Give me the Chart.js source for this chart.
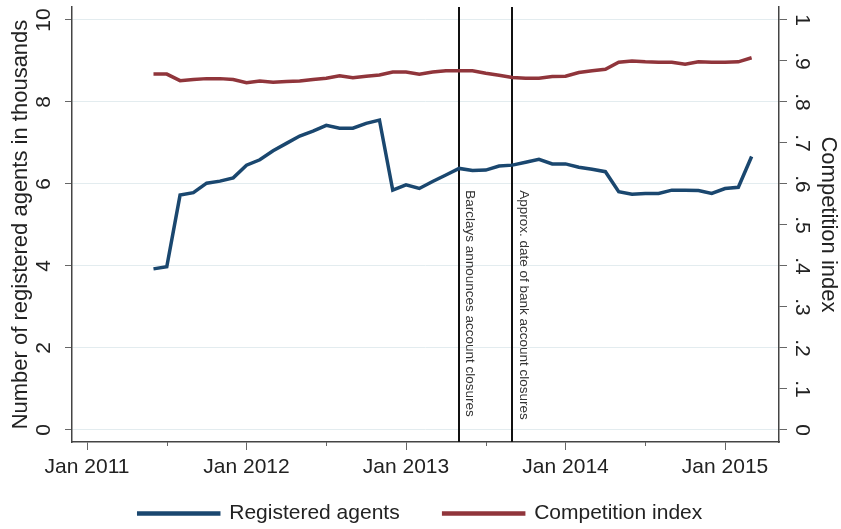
<!DOCTYPE html>
<html lang="en">
<head>
<meta charset="UTF-8">
<title>Registered agents and competition index</title>
<script src="https://cdn.jsdelivr.net/npm/chart.js"></script>
<style>
  html, body { margin: 0; padding: 0; background: #fff; }
  #wrap { width: 841px; height: 529px; }
</style>
</head>
<body>
<div id="wrap"><canvas id="chart" width="841" height="529"></canvas></div>
<script>
// monthly observations, Jun 2011 - Mar 2015
const months = [
  '2011-06','2011-07','2011-08','2011-09','2011-10','2011-11','2011-12',
  '2012-01','2012-02','2012-03','2012-04','2012-05','2012-06','2012-07','2012-08','2012-09','2012-10','2012-11','2012-12',
  '2013-01','2013-02','2013-03','2013-04','2013-05','2013-06','2013-07','2013-08','2013-09','2013-10','2013-11','2013-12',
  '2014-01','2014-02','2014-03','2014-04','2014-05','2014-06','2014-07','2014-08','2014-09','2014-10','2014-11','2014-12',
  '2015-01','2015-02','2015-03'
];

// registered agents, thousands
const agents = [
  3.93, 3.98, 5.73, 5.79, 6.02, 6.07, 6.15,
  6.46, 6.59, 6.81, 6.99, 7.17, 7.29, 7.43, 7.36, 7.36, 7.48, 7.56, 5.85,
  5.98, 5.89, 6.06, 6.22, 6.38, 6.33, 6.34, 6.44, 6.46, 6.53, 6.60, 6.49,
  6.49, 6.41, 6.36, 6.30, 5.81, 5.75, 5.77, 5.77, 5.85, 5.85, 5.84, 5.77,
  5.89, 5.92, 6.67
];

// competition index
const competition = [
  0.868, 0.868, 0.852, 0.855, 0.857, 0.857, 0.855,
  0.847, 0.851, 0.848, 0.850, 0.851, 0.855, 0.858, 0.864, 0.859, 0.863, 0.866, 0.873,
  0.873, 0.868, 0.873, 0.876, 0.876, 0.876, 0.870, 0.865, 0.860, 0.858, 0.858, 0.862,
  0.863, 0.872, 0.876, 0.880, 0.897, 0.900, 0.898, 0.897, 0.897, 0.892, 0.898, 0.897,
  0.897, 0.898, 0.908
];

const xTickMonths = ['2011-01', '2012-01', '2013-01', '2014-01', '2015-01'];
const xTickLabels = ['Jan 2011', 'Jan 2012', 'Jan 2013', 'Jan 2014', 'Jan 2015'];
const xMinorMonths = ['2011-07', '2012-07', '2013-07', '2014-07'];

const agentTicks = [0, 2, 4, 6, 8, 10];
const agentTickLabels = ['0', '2', '4', '6', '8', '10'];
const indexTicks = [0, 0.1, 0.2, 0.3, 0.4, 0.5, 0.6, 0.7, 0.8, 0.9, 1];
const indexTickLabels = ['0', '.1', '.2', '.3', '.4', '.5', '.6', '.7', '.8', '.9', '1'];

const eventMonths = ['2013-05', '2013-09'];
const eventLabels = ['Barclays announces account closures', 'Approx. date of bank account closures'];

const FONT = "'Liberation Sans', Arial, sans-serif";
Chart.defaults.font.family = FONT;
Chart.defaults.color = '#222';

// months since Jan 2011
function monthIndex(s) {
  const [y, m] = s.split('-').map(Number);
  return (y - 2011) * 12 + (m - 1);
}

function toPoints(vals) {
  return months.map((m, i) => ({ x: monthIndex(m), y: vals[i] }));
}

const stataDecor = {
  id: 'stataDecor',
  beforeDatasetsDraw(chart) {
    const { ctx, chartArea, scales } = chart;
    ctx.save();
    ctx.strokeStyle = '#111';
    ctx.lineWidth = 2;
    eventMonths.forEach(m => {
      const px = Math.round(scales.x.getPixelForValue(monthIndex(m)));
      ctx.beginPath();
      ctx.moveTo(px, chartArea.top);
      ctx.lineTo(px, chartArea.bottom);
      ctx.stroke();
    });
    ctx.restore();
  },
  afterDraw(chart) {
    const { ctx, chartArea, scales } = chart;
    ctx.save();

    // minor x ticks
    ctx.strokeStyle = '#666';
    ctx.lineWidth = 1;
    xMinorMonths.forEach(m => {
      const px = Math.round(scales.x.getPixelForValue(monthIndex(m))) + 0.5;
      ctx.beginPath();
      ctx.moveTo(px, chartArea.bottom);
      ctx.lineTo(px, chartArea.bottom + 4);
      ctx.stroke();
    });

    ctx.fillStyle = '#222';
    ctx.font = '21px ' + FONT;
    ctx.textAlign = 'center';
    ctx.textBaseline = 'middle';

    // x labels (drawn here so they are not clipped to the short axis box)
    xTickMonths.forEach((m, i) => {
      ctx.fillText(xTickLabels[i], scales.x.getPixelForValue(monthIndex(m)), chartArea.bottom + 25);
    });

    // rotated y tick labels, stata style
    agentTicks.forEach((v, i) => {
      const py = scales.y.getPixelForValue(v);
      ctx.save();
      ctx.translate(44, py);
      ctx.rotate(-Math.PI / 2);
      ctx.fillText(agentTickLabels[i], 0, 0);
      ctx.restore();
    });
    indexTicks.forEach((v, i) => {
      const py = scales.y1.getPixelForValue(v);
      ctx.save();
      ctx.translate(802, py);
      ctx.rotate(Math.PI / 2);
      ctx.fillText(indexTickLabels[i], 0, 0);
      ctx.restore();
    });

    // event notes next to the vertical lines
    ctx.font = '13.5px ' + FONT;
    ctx.fillStyle = '#333';
    ctx.textAlign = 'left';
    const noteTop = scales.y.getPixelForValue(5.85);
    eventMonths.forEach((m, i) => {
      const px = scales.x.getPixelForValue(monthIndex(m));
      ctx.save();
      ctx.translate(px + 11, noteTop);
      ctx.rotate(Math.PI / 2);
      ctx.fillText(eventLabels[i], 0, 0);
      ctx.restore();
    });

    ctx.restore();
  }
};

const axisBorder = { color: '#444', width: 1.5 };

new Chart(document.getElementById('chart'), {
  type: 'line',
  data: {
    datasets: [
      {
        label: 'Registered agents',
        data: toPoints(agents),
        borderColor: '#1a476f',
        backgroundColor: '#1a476f',
        borderWidth: 3.5,
        pointRadius: 0,
        tension: 0,
        yAxisID: 'y'
      },
      {
        label: 'Competition index',
        data: toPoints(competition),
        borderColor: '#90353b',
        backgroundColor: '#90353b',
        borderWidth: 3.5,
        pointRadius: 0,
        tension: 0,
        yAxisID: 'y1'
      }
    ]
  },
  options: {
    responsive: false,
    animation: false,
    layout: { padding: { top: 7, left: 0, right: 0, bottom: 0 } },
    plugins: {
      legend: {
        position: 'bottom',
        maxHeight: 70,
        labels: { boxWidth: 80, boxHeight: 1, padding: 44, color: '#222', font: { size: 21 } }
      },
      tooltip: { enabled: false }
    },
    scales: {
      x: {
        type: 'linear',
        min: -1.13,
        max: 52.06,
        afterBuildTicks: s => { s.ticks = xTickMonths.map(m => ({ value: monthIndex(m) })); },
        ticks: { display: false },
        grid: { drawOnChartArea: false, tickLength: 8, tickColor: '#666', tickWidth: 1 },
        border: axisBorder,
        afterFit: s => { s.height = 17; }
      },
      y: {
        position: 'left',
        min: -0.293,
        max: 10.317,
        afterBuildTicks: s => { s.ticks = agentTicks.map(v => ({ value: v })); },
        ticks: { display: false },
        grid: { color: '#e3ecef', lineWidth: 1, tickLength: 7, tickColor: '#666' },
        border: axisBorder,
        title: {
          display: true,
          text: 'Number of registered agents in thousands',
          font: { size: 22 },
          color: '#222',
          padding: { top: 8, bottom: 0 }
        },
        afterFit: s => { s.width = 72; }
      },
      y1: {
        position: 'right',
        min: -0.0293,
        max: 1.0317,
        afterBuildTicks: s => { s.ticks = indexTicks.map(v => ({ value: v })); },
        ticks: { display: false },
        grid: { drawOnChartArea: false, tickLength: 8, tickColor: '#666' },
        border: axisBorder,
        title: {
          display: true,
          text: 'Competition index',
          font: { size: 22 },
          color: '#222',
          padding: { top: 0, bottom: 0 }
        },
        afterFit: s => { s.width = 62; }
      }
    }
  },
  plugins: [stataDecor]
});
</script>
</body>
</html>
